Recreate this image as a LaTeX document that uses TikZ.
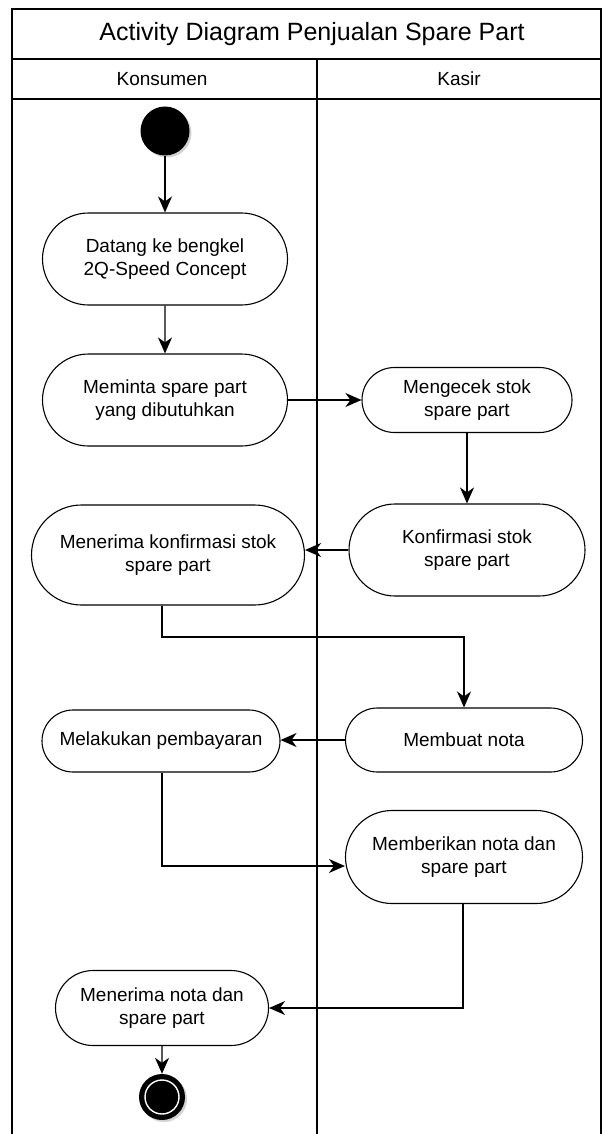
\documentclass[tikz,border=0pt]{standalone}
\usepackage{fontspec}
\setmainfont{Liberation Sans}
\usetikzlibrary{arrows.meta,shapes.misc,shadows}
\begin{document}
\begin{tikzpicture}[x=1pt,y=-1pt,
  lane/.style={draw=black,line width=1.3pt},
  act/.style={rounded rectangle,draw=black,line width=1.1pt,fill=white,
    align=center,font=\fontsize{19}{23}\selectfont,inner sep=0pt},
  flow/.style={draw=black,line width=1.4pt,-{Stealth[length=16pt,width=14pt,inset=5pt]}},
  startnode/.style={circle,fill=black,minimum size=49pt,inner sep=0pt,
    drop shadow={opacity=0.35,shadow xshift=2pt,shadow yshift=-2pt}},
]
\useasboundingbox (0,0) rectangle (602,1134);
% frame and lanes
\draw[lane] (12,1134) -- (12,9) -- (601,9) -- (601,1134);
\draw[lane] (12,59) -- (601,59);
\draw[lane] (12,99) -- (601,99);
\draw[lane] (317,59) -- (317,1134);
\node[font=\fontsize{25}{30}\selectfont] (title) at (312,34) {Activity Diagram Penjualan Spare Part};
\node[font=\fontsize{19}{23}\selectfont] (h1) at (162,79) {Konsumen};
\node[font=\fontsize{19}{23}\selectfont] (h2) at (459,79) {Kasir};

% nodes
\node[startnode] (start) at (165,131) {};
\node[act,minimum width=245pt,minimum height=92pt] (datang) at (165,259) {Datang ke bengkel\\2Q-Speed Concept};
\node[act,minimum width=245pt,minimum height=92pt] (meminta) at (165,400) {Meminta spare part\\yang dibutuhkan};
\node[act,minimum width=210pt,minimum height=65pt] (cek) at (467,400) {Mengecek stok\\spare part};
\node[act,minimum width=236pt,minimum height=92pt] (konf) at (467,550) {Konfirmasi stok\\spare part};
\node[act,minimum width=273pt,minimum height=100pt] (terima) at (168,555) {Menerima konfirmasi stok\\spare part};
\node[act,minimum width=237pt,minimum height=64pt] (nota) at (464,740) {Membuat nota};
\node[act,minimum width=238pt,minimum height=62pt] (bayar) at (161,741) {Melakukan pembayaran};
\node[act,minimum width=237pt,minimum height=93pt] (beri) at (464,857) {Memberikan nota dan\\spare part};
\node[act,minimum width=213pt,minimum height=75pt] (terimanota) at (162,1008) {Menerima nota dan\\spare part};
\node[circle,fill=black,minimum size=46pt,inner sep=0pt,
  drop shadow={opacity=0.35,shadow xshift=2pt,shadow yshift=-2pt}] (end) at (162,1097) {};
\node[circle,draw=white,line width=1.4pt,minimum size=34pt,inner sep=0pt] (endring) at (end.center) {};

% flows
\draw[flow] (start) -- (datang);
\draw[flow] (datang) -- (meminta);
\draw[flow] (meminta.east) -- (cek.west);
\draw[flow] (cek.south) -- (cek.south |- konf.north);
\draw[flow] (konf.west) -- (konf.west -| terima.east);
\coordinate (c1) at (162,637);
\draw[flow] (terima.south -| c1) -- (c1) -| (nota.north);
\coordinate (c2) at (162,866);
\draw[flow] (nota.west) -- (nota.west -| bayar.east);
\draw[flow] (bayar.south -| c2) -- (c2) -- (c2 -| beri.west);
\coordinate (c3) at (463,1008);
\draw[flow] (beri.south -| c3) -- (c3) -- (terimanota.east);
\draw[flow] (terimanota) -- (end);
\end{tikzpicture}
\end{document}
